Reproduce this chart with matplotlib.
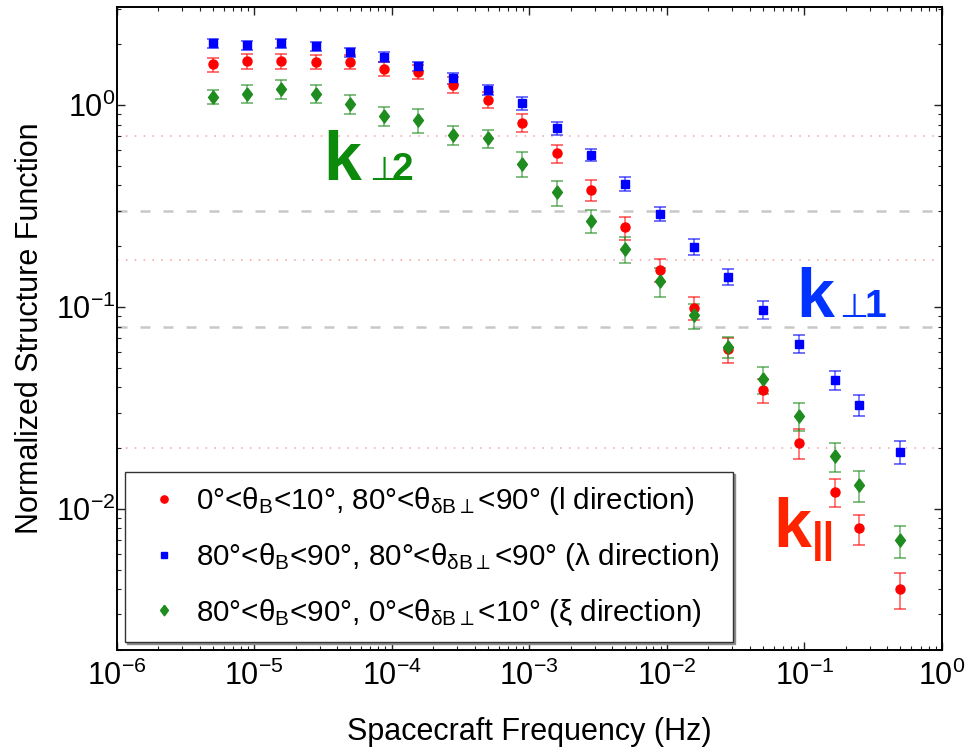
import matplotlib
matplotlib.use("Agg")
import matplotlib.pyplot as plt
import numpy as np
from matplotlib.lines import Line2D

plt.rcParams["font.family"] = ["Liberation Sans", "DejaVu Sans"]
plt.rcParams["mathtext.fontset"] = "custom"
plt.rcParams["mathtext.rm"] = "Liberation Sans"
plt.rcParams["mathtext.it"] = "Liberation Sans:italic"
plt.rcParams["mathtext.bf"] = "Liberation Sans:bold"
plt.rcParams["mathtext.sf"] = "Liberation Sans"
plt.rcParams["mathtext.fallback"] = "stixsans"

# spacecraft frequency (Hz)
freq = np.array([5.0e-6, 8.8e-6, 1.56e-5, 2.8e-5, 5.0e-5, 8.8e-5, 1.56e-4, 2.8e-4,
                 5.0e-4, 8.8e-4, 1.58e-3, 2.8e-3, 5.0e-3, 8.9e-3, 1.58e-2, 2.8e-2,
                 5.0e-2, 9.2e-2, 0.167, 0.25, 0.5])

# normalized structure function, l direction (k_par)
sf_l = np.array([1.59, 1.65, 1.65, 1.64, 1.64, 1.51, 1.46, 1.26, 1.06, 0.818, 0.577,
                 0.380, 0.248, 0.153, 0.099, 0.0616, 0.0388, 0.0213, 0.0121, 0.0080, 0.0040])
# lambda direction (k_perp1)
sf_lam = np.array([2.03, 1.98, 2.02, 1.96, 1.83, 1.73, 1.56, 1.36, 1.19, 1.02, 0.767,
                   0.566, 0.406, 0.289, 0.199, 0.141, 0.097, 0.0657, 0.0435, 0.0327, 0.0192])
# xi direction (k_perp2)
sf_xi = np.array([1.10, 1.14, 1.20, 1.14, 1.01, 0.882, 0.843, 0.711, 0.685, 0.511, 0.370,
                  0.267, 0.194, 0.134, 0.091, 0.0636, 0.0438, 0.0288, 0.0182, 0.0131, 0.0070])

# relative 1-sigma uncertainties
rel_err_l = np.array([0.08, 0.08, 0.08, 0.08, 0.08, 0.08, 0.08, 0.09, 0.09, 0.10, 0.10,
                      0.12, 0.13, 0.13, 0.13, 0.14, 0.14, 0.17, 0.16, 0.17, 0.20])
rel_err_lam = np.array([0.05, 0.05, 0.05, 0.05, 0.05, 0.06, 0.05, 0.06, 0.06, 0.07, 0.07,
                        0.07, 0.08, 0.08, 0.09, 0.09, 0.10, 0.10, 0.11, 0.12, 0.13])
rel_err_xi = np.array([0.08, 0.10, 0.11, 0.10, 0.11, 0.11, 0.14, 0.11, 0.10, 0.14, 0.14,
                       0.13, 0.15, 0.16, 0.14, 0.12, 0.15, 0.16, 0.16, 0.17, 0.18])

dotted_levels = [0.7, 0.17, 0.02]
dashed_levels = [0.3, 0.08]

labels = [
    r"0°<$\mathrm{θ_B}$<10°, 80°<$\mathrm{θ_{δB\perp}}$<90° (l direction)",
    r"80°<$\mathrm{θ_B}$<90°, 80°<$\mathrm{θ_{δB\perp}}$<90° (λ direction)",
    r"80°<$\mathrm{θ_B}$<90°, 0°<$\mathrm{θ_{δB\perp}}$<10° (ξ direction)",
]

RED, BLUE, GREEN = "#ff0000", "#0000ff", "#1e8c1e"
DIAMOND = [(0, 1), (0.75, 0), (0, -1), (-0.75, 0), (0, 1)]

fig = plt.figure(figsize=(9.65, 7.5), dpi=100)
ax = fig.add_axes([0.121, 0.1333, 0.855, 0.8573])

for lev in dotted_levels:
    ax.axhline(lev, color="#f4a0a0", lw=1.1, linestyle=(0, (1, 4.8)), zorder=1)
for lev in dashed_levels:
    ax.axhline(lev, color="#c8c8c8", lw=1.8, linestyle=(0, (4, 5.2)), zorder=1)

series = [
    (sf_l, rel_err_l, "o", 6.5, RED),
    (sf_lam, rel_err_lam, "s", 5.3, BLUE),
    (sf_xi, rel_err_xi, DIAMOND, 9.5, GREEN),
]
handles = []
for (vals, rel, mk, ms, col), lab in zip(series, labels):
    ax.errorbar(freq, vals, yerr=vals * rel, fmt="none", ecolor=col, elinewidth=1.2,
                capsize=4.5, capthick=1.3, alpha=0.6, zorder=2)
    ax.plot(freq, vals, linestyle="none", marker=mk, ms=ms, color=col, mec=col, zorder=3)
    handles.append(Line2D([], [], linestyle="none", marker=mk, ms=ms * 0.8, color=col, label=lab))

ax.set_xscale("log")
ax.set_yscale("log")
ax.set_xlim(1e-6, 1)
ax.set_ylim(2e-3, 3.06)
ax.set_xticks([1e-6, 1e-5, 1e-4, 1e-3, 1e-2, 1e-1, 1])
ax.set_yticks([1e-2, 1e-1, 1])

ax.tick_params(which="both", direction="in", top=True, right=True, colors="#222222")
ax.tick_params(which="major", length=6, width=1, labelsize=22, labelcolor="black")
ax.tick_params(which="minor", length=3, width=0.8)
ax.tick_params(axis="x", which="major", pad=8)
ax.tick_params(axis="y", which="major", pad=1)
for sp in ax.spines.values():
    sp.set_linewidth(1.4)

ax.set_xlabel("Spacecraft Frequency (Hz)", fontsize=22, labelpad=18)
ax.set_ylabel("Normalized Structure Function", fontsize=22, labelpad=8)

leg = ax.legend(handles=handles, loc="lower left", bbox_to_anchor=(0.010, 0.0124),
                borderaxespad=0, fontsize=21.3, handlelength=1.75, handletextpad=0.2,
                labelspacing=0.8, borderpad=0.45, fancybox=False, framealpha=1,
                edgecolor="#333333", shadow={"ox": 1.5, "oy": -1.5, "color": "0.55", "alpha": 1})
leg.get_frame().set_linewidth(1.0)
leg.set_zorder(5)

# wavevector annotations
ax.text(3.16e-5, 0.426, "k", fontsize=49, fontweight="bold", color="#0b8a0b", ha="left", va="baseline")
ax.text(6.8e-5, 0.426, "⊥", fontsize=24, color="#0b8a0b", ha="left", va="baseline")
ax.text(9.9e-5, 0.426, "2", fontsize=28, fontweight="bold", color="#0b8a0b", ha="left", va="baseline")

ax.text(0.0871, 0.0897, "k", fontsize=49, fontweight="bold", color="#0033ff", ha="left", va="baseline")
ax.text(0.178, 0.0897, "⊥", fontsize=24, color="#0033ff", ha="left", va="baseline")
ax.text(0.272, 0.0897, "1", fontsize=28, fontweight="bold", color="#0033ff", ha="left", va="baseline")

ax.text(0.0594, 0.00648, "k", fontsize=49, fontweight="bold", color="#ff2400", ha="left", va="baseline")
ax.text(0.114, 0.00612, "||", fontsize=30, fontweight="bold", color="#ff2400", ha="left", va="baseline")

fig.savefig("out.png", dpi=100)
